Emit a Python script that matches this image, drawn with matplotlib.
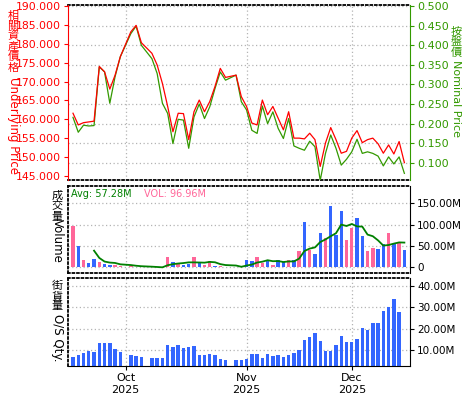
import numpy as np
import matplotlib
matplotlib.use('Agg')
import matplotlib.pyplot as plt

plt.rcParams['font.family'] = ['DejaVu Sans', 'Noto Sans CJK TC']

# trading days (weekday axis, holidays leave gaps)
dates = ['2025-09-17', '2025-09-18', '2025-09-19', '2025-09-22', '2025-09-23', '2025-09-24',
         '2025-09-25', '2025-09-26', '2025-09-29', '2025-09-30', '2025-10-02', '2025-10-03',
         '2025-10-06', '2025-10-08', '2025-10-09', '2025-10-10', '2025-10-13', '2025-10-14',
         '2025-10-15', '2025-10-16', '2025-10-17', '2025-10-20', '2025-10-21', '2025-10-22',
         '2025-10-23', '2025-10-24', '2025-10-27', '2025-10-28', '2025-10-30', '2025-10-31',
         '2025-11-03', '2025-11-04', '2025-11-05', '2025-11-06', '2025-11-07', '2025-11-10',
         '2025-11-11', '2025-11-12', '2025-11-13', '2025-11-14', '2025-11-17', '2025-11-18',
         '2025-11-19', '2025-11-20', '2025-11-21', '2025-11-24', '2025-11-25', '2025-11-26',
         '2025-11-27', '2025-11-28', '2025-12-01', '2025-12-02', '2025-12-03', '2025-12-04',
         '2025-12-05', '2025-12-08', '2025-12-09', '2025-12-10', '2025-12-11', '2025-12-12',
         '2025-12-15']

underlying = [161.6, 158.5, 159.1, 159.3, 159.5, 174.0, 172.6, 168.0, 171.7, 176.6,
              183.2, 184.9, 180.3, 177.5, 174.4, 169.5, 163.4, 156.7, 161.6, 161.5,
              154.6, 162.0, 165.1, 162.0, 164.7, 168.7, 173.5, 171.1, 171.7, 166.0,
              163.4, 159.0, 158.5, 165.1, 161.2, 163.4, 160.3, 157.2, 162.0, 155.0,
              155.0, 154.8, 156.3, 154.6, 147.5, 153.7, 157.8, 154.6, 151.0, 151.5,
              155.0, 157.0, 153.8, 154.6, 155.0, 153.5, 151.0, 153.2, 150.8, 154.1,
              148.5]

nominal = [0.216, 0.178, 0.196, 0.194, 0.195, 0.345, 0.332, 0.252, 0.320, 0.371,
           0.430, 0.449, 0.400, 0.366, 0.328, 0.252, 0.226, 0.149, 0.211, 0.209,
           0.137, 0.217, 0.250, 0.213, 0.243, 0.290, 0.332, 0.311, 0.324, 0.256,
           0.235, 0.183, 0.175, 0.245, 0.200, 0.230, 0.188, 0.162, 0.213, 0.143,
           0.137, 0.132, 0.155, 0.141, 0.055, 0.124, 0.171, 0.137, 0.094, 0.109,
           0.128, 0.160, 0.124, 0.128, 0.124, 0.117, 0.092, 0.115, 0.097, 0.115,
           0.073]

# volume in millions, up = 1 (pink) / down = 0 (blue)
volume = [97.4, 50.6, 17.8, 10.0, 19.4, 12.4, 8.0, 5.8, 5.4, 3.4,
          4.0, 0.0, 0.0, 0.0, 0.0, 0.0, 24.5, 12.4, 7.7, 5.4,
          8.0, 24.5, 11.0, 5.4, 14.8, 3.2, 3.2, 0.0, 0.0, 0.0,
          17.1, 14.8, 24.1, 10.0, 17.1, 5.4, 17.1, 12.4, 17.1, 17.1,
          38.2, 106.0, 40.5, 31.1, 80.3, 68.6, 143.6, 75.6, 131.9, 63.9,
          92.0, 115.5, 73.3, 38.2, 45.2, 42.9, 54.6, 80.3, 54.6, 59.3,
          40.5]
vol_up = [1, 0, 1, 0, 0, 1, 0, 0, 1, 1,
          1, 0, 0, 0, 0, 0, 1, 0, 1, 0,
          0, 1, 0, 1, 1, 0, 1, 0, 0, 0,
          0, 0, 1, 1, 0, 1, 0, 0, 1, 0,
          1, 0, 1, 0, 0, 1, 0, 0, 0, 1,
          1, 0, 0, 1, 1, 0, 0, 1, 0, 1,
          0]
vol_avg = [np.nan, np.nan, np.nan, np.nan, 39.0, 22.0, 13.5, 11.1, 10.2, 7.0,
           5.3, 3.7, 2.6, 1.5, 0.8, 0.0, 4.9, 7.4, 8.9, 10.0,
           11.6, 11.6, 11.3, 10.9, 12.7, 11.8, 7.5, 5.3, 4.2, 1.3,
           4.1, 6.4, 11.2, 13.2, 16.6, 14.3, 14.7, 12.4, 13.8, 13.8,
           20.4, 38.2, 43.8, 46.6, 59.2, 65.3, 72.8, 79.8, 100.0, 96.7,
           101.4, 95.8, 95.3, 76.6, 72.8, 63.0, 50.8, 52.2, 55.5, 58.3,
           57.9]

# outstanding qty (millions), up to 2025-12-12
os_qty = [7.0, 7.8, 8.7, 9.8, 9.2, 13.4, 13.4, 13.4, 10.6, 9.4,
          7.8, 7.3, 6.9, 6.4, 6.4, 6.4, 12.5, 11.5, 12.5, 11.1,
          11.5, 12.0, 7.8, 7.8, 8.3, 7.8, 6.0, 5.5, 5.5, 5.5,
          6.0, 8.3, 8.3, 6.4, 8.3, 7.3, 7.8, 6.9, 7.8, 8.7,
          10.1, 14.8, 16.2, 18.0, 14.3, 9.7, 9.7, 12.5, 16.7, 13.9,
          13.9, 15.3, 20.4, 19.4, 22.7, 22.7, 28.3, 30.1, 33.9, 27.8]

month_ticks = ['2025-10-01', '2025-11-03', '2025-12-01']
month_labels = ['Oct\n2025', 'Nov\n2025', 'Dec\n2025']

RED = '#ff0000'
GREEN = '#339900'
PINK = '#ff6699'
BLUE = '#3366ff'
GRID = '#b4b4b4'

x = np.busday_count(dates[0], dates)
tx = np.busday_count(dates[0], month_ticks)
xlim = (-0.95, 64.07)

W, H = 475, 400
fig = plt.figure(figsize=(W / 100, H / 100), dpi=100)


def box(left, top, right, bottom):
    return [left / W, 1 - bottom / H, (right - left) / W, (bottom - top) / H]


def dotted(sp):
    sp.set_linestyle((0, (1, 1.5)))
    sp.set_color('black')
    sp.set_linewidth(1.3)


def grid(ax):
    ax.set_axisbelow(True)
    ax.grid(True, color=GRID, linestyle=(0, (1, 2)), linewidth=0.9)


# ---------- main panel ----------
ax_main = fig.add_axes(box(68, 5, 410, 180))
ax_und = ax_main.twinx()

# nominal price (right axis, carries the grid)
ax_main.plot(x, nominal, color=GREEN, linewidth=0.9, zorder=3)
ax_main.set_xlim(*xlim)
ax_main.set_ylim(0.056, 0.503)
ax_main.yaxis.tick_right()
ax_main.set_yticks(np.arange(0.10, 0.501, 0.05))
ax_main.set_yticklabels([f'{v:.3f}' for v in np.arange(0.10, 0.501, 0.05)])
ax_main.tick_params(axis='y', colors=GREEN, labelsize=8, length=3, pad=2)
ax_main.set_xticks(tx)
ax_main.tick_params(axis='x', length=0, labelbottom=False)
grid(ax_main)
dotted(ax_main.spines['top'])
dotted(ax_main.spines['bottom'])
ax_main.spines['left'].set_visible(False)
ax_main.spines['right'].set_color(GREEN)

# underlying price (left axis)
ax_und.plot(x, underlying, color=RED, linewidth=0.9, zorder=3)
ax_und.yaxis.tick_left()
ax_und.set_ylim(143.9, 190.3)
ax_und.set_yticks(np.arange(145, 191, 5))
ax_und.set_yticklabels([f'{v:.3f}' for v in np.arange(145, 191, 5)])
ax_und.tick_params(axis='y', colors=RED, labelsize=7.8, length=3, pad=2)
for s in ['right', 'top', 'bottom']:
    ax_und.spines[s].set_visible(False)
ax_und.spines['left'].set_color(RED)

fig.text(13 / W, 1 - 11 / H, '相\n關\n資\n產\n價\n格', color=RED, fontsize=8,
         ha='center', va='top', linespacing=1.0)
fig.text(13 / W, 1 - 77 / H, 'Underlying Price', color=RED, fontsize=8.5,
         rotation=270, ha='center', va='top')
fig.text(456 / W, 1 - 27 / H, '按\n盤\n價', color=GREEN, fontsize=8,
         ha='center', va='top', linespacing=1.0)
fig.text(456 / W, 1 - 60 / H, 'Nominal Price', color=GREEN, fontsize=8,
         rotation=270, ha='center', va='top')

# ---------- volume panel ----------
ax_vol = fig.add_axes(box(68, 185.5, 410, 273.3))
ax_vol.bar(x, volume, width=0.65, color=[PINK if u else BLUE for u in vol_up], zorder=2)
ax_vol.plot(x, vol_avg, color='#008000', linewidth=1.3, zorder=3)
ax_vol.set_xlim(*xlim)
ax_vol.set_ylim(-14, 191.5)
ax_vol.yaxis.tick_right()
ax_vol.set_yticks([0, 50, 100, 150])
ax_vol.set_yticklabels(['0', '50.00M', '100.00M', '150.00M'])
ax_vol.tick_params(axis='y', labelsize=7.5, length=3, pad=2)
ax_vol.set_xticks(tx)
ax_vol.tick_params(axis='x', length=0, labelbottom=False)
grid(ax_vol)
for s in ['left', 'top', 'bottom']:
    dotted(ax_vol.spines[s])

ax_vol.text(3 / 342, 0.9, 'Avg: 57.28M', transform=ax_vol.transAxes, color='#008000',
            fontsize=7, ha='left', va='center')
ax_vol.text(76 / 342, 0.9, 'VOL: 96.96M', transform=ax_vol.transAxes, color=PINK,
            fontsize=7, ha='left', va='center')

fig.text(57 / W, 1 - 191 / H, '成\n交\n量', color='black', fontsize=8,
         ha='center', va='top', linespacing=1.0)
fig.text(57 / W, 1 - 219 / H, 'Volume', color='black', fontsize=8.5,
         rotation=270, ha='center', va='top')

# ---------- outstanding qty panel ----------
ax_os = fig.add_axes(box(68, 278.3, 410, 366))
ax_os.bar(x[:len(os_qty)], os_qty, width=0.65, color=BLUE, zorder=2)
ax_os.set_xlim(*xlim)
ax_os.set_ylim(2.7, 43.4)
ax_os.yaxis.tick_right()
ax_os.set_yticks([10, 20, 30, 40])
ax_os.set_yticklabels(['10.00M', '20.00M', '30.00M', '40.00M'])
ax_os.tick_params(axis='y', labelsize=7.5, length=3, pad=2)
ax_os.set_xticks(tx)
ax_os.set_xticklabels(month_labels)
ax_os.tick_params(axis='x', labelsize=8, length=3, pad=2)
grid(ax_os)
for s in ['left', 'top']:
    dotted(ax_os.spines[s])

fig.text(57 / W, 1 - 281 / H, '街\n貨\n量', color='black', fontsize=8,
         ha='center', va='top', linespacing=1.0)
fig.text(57 / W, 1 - 314 / H, 'O/S Qty.', color='black', fontsize=8.5,
         rotation=270, ha='center', va='top')

fig.savefig('out.png', dpi=100)
